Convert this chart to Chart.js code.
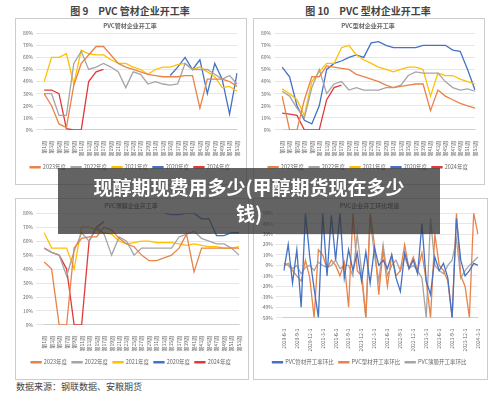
<!DOCTYPE html><html><head><meta charset="utf-8">
<script src="https://cdn.jsdelivr.net/npm/chart.js@4"></script>
<style>
body{margin:0;width:500px;height:401px;background:#fff;font-family:"Noto Sans CJK SC";position:relative;overflow:hidden}
.t{position:absolute;font-size:10px;color:#444;font-weight:bold;text-align:center;width:230px}
.b{position:absolute;border:1px solid #ccc;background:#fff}
.b canvas{position:absolute;left:0;top:0}
#banner{position:absolute;left:58px;top:168px;width:382px;height:66px;background:rgba(55,55,55,0.78);color:#fff;font-weight:bold;font-size:19px;text-align:center;line-height:26px;padding-top:6px;box-sizing:border-box}
#src{position:absolute;left:16px;top:380px;font-size:9px;color:#444}
</style></head><body>
<div class="t" style="left:15px;top:3px">图 9　PVC 管材企业开工率</div>
<div class="t" style="left:253px;top:3px">图 10　PVC 型材企业开工率</div>
<div class="b" style="left:15px;top:18px;width:230px;height:165px"><canvas id="c1"></canvas></div>
<div class="b" style="left:253px;top:18px;width:230px;height:165px"><canvas id="c2"></canvas></div>
<div class="b" style="left:15px;top:198px;width:232px;height:180px"><canvas id="c3"></canvas></div>
<div class="b" style="left:253px;top:198px;width:233px;height:180px"><canvas id="c4"></canvas></div>
<div id="src">数据来源：钢联数据、安粮期货</div>
<div id="banner">现醇期现费用多少(甲醇期货现在多少<br>钱)</div>
<script>
const weeks=[];for(let i=1;i<=53;i+=2)weeks.push('第'+i+'周');
const yearNames=['2023年度','2022年度','2021年度','2020年度','2024年度'];
const c1Orange=[30,20,5,2,37,55,62,69,69,62,55,52,50,48,46,45,44,44,44,45,45,18,42,42,42,40,36];
const c1Grey=[30,30,12,12,55,65,50,52,55,52,48,35,48,46,38,40,38,37,38,55,50,50,50,46,42,45,38];
const c1Yellow=[40,60,60,63,38,66,63,62,62,58,55,55,52,50,46,50,52,52,54,55,50,52,48,44,35,36,32];
const c1Blue=[null,null,null,null,null,null,null,null,null,null,null,null,null,null,null,null,null,45,52,60,50,58,30,55,42,13,47];
const c1Red=[33,33,30,1,0,0,40,48,50];
const c2Orange=[28,0,0,25,44,44,53,52,51,50,46,44,42,40,37,35,36,37,38,38,16,33,28,25,22,20,18];
const c2Grey=[32,28,18,10,35,50,30,38,40,33,35,33,33,33,35,35,37,45,48,47,47,47,40,35,33,34,32];
const c2Yellow=[34,30,25,12,40,48,55,55,68,70,62,58,55,52,50,48,50,52,52,50,28,47,45,45,42,40,38];
const c2Blue=[52,44,20,8,5,20,50,55,57,60,62,60,72,73,70,68,68,68,68,70,70,70,70,66,65,50,33];
const c2Red=[14,13,12,0,0,0,25,35,37];
const c3Orange=[45,40,0,0,55,62,63,63,70,68,62,58,56,50,46,46,48,50,55,65,38,55,55,55,55,55,55];
const c3Grey=[55,52,50,35,53,66,60,70,65,50,63,60,50,55,55,55,55,55,63,65,67,62,60,58,58,55,50];
const c3Yellow=[66,55,55,55,40,70,70,68,66,65,60,58,59,60,60,59,59,59,58,57,58,57,56,56,55,55,56];
const c3Blue=[null,null,null,null,null,null,null,null,null,null,null,null,null,null,null,null,80,79,79,80,80,76,76,64,64,66,66];
const c3Red=[55,52,50,40,0,0,60,70,74];
const dates=['2020-6-3','2020-7-3','2020-8-3','2020-9-3','2020-10-3','2020-11-3','2020-12-3','2021-1-3','2021-2-3','2021-3-3','2021-4-3','2021-5-3','2021-6-3','2021-7-3','2021-8-3','2021-9-3','2021-10-3','2021-11-3','2021-12-3','2022-1-3','2022-2-3','2022-3-3','2022-4-3','2022-5-3','2022-6-3','2022-7-3','2022-8-3','2022-9-3','2022-10-3','2022-11-3','2022-12-3','2023-1-3','2023-2-3','2023-3-3','2023-4-3','2023-5-3','2023-6-3','2023-7-3','2023-8-3','2023-9-3','2023-10-3','2023-11-3','2023-12-3','2024-1-3','2024-2-3','2024-3-3'];
const c4Blue=[-5,20,-17,15,-40,50,8,-22,-50,50,-10,48,5,50,-12,15,-5,12,-15,13,-17,17,0,5,-3,10,-12,-25,12,-3,5,-8,40,-15,-28,8,-5,2,-12,-50,45,5,-10,-5,2,0];
const c4Orange=[2,0,-5,-10,-15,5,-12,-50,15,10,-3,5,0,-10,3,-40,50,-5,-10,-50,50,20,-28,15,-20,10,-10,-5,20,-3,8,-5,12,-15,-50,30,0,-5,-15,-50,50,-10,-20,-50,50,30];
const c4Grey=[0,2,-3,0,-8,-2,0,-5,3,0,-2,0,5,-3,0,0,-10,30,-5,-50,45,10,-15,20,-10,0,5,-5,8,-3,0,-5,-12,-50,45,0,-5,-8,0,5,25,-12,-5,0,4,8];
const C={o:'#e8834a',g:'#a5a5a5',y:'#ffc000',b:'#4472c4',r:'#e03a3a'};
Chart.defaults.font.family='"Noto Sans CJK SC"';Chart.defaults.font.size=5;Chart.defaults.color='#666';
function ds(d,c){return{data:d,borderColor:c,backgroundColor:c,borderWidth:1.3,pointRadius:0,tension:0,spanGaps:false};}
function mk(id,title,labels,sets,names,ymin,ymax,step,skip){
 return new Chart(document.getElementById(id),{type:'line',data:{labels,datasets:sets.map((s,i)=>Object.assign(ds(s[0],s[1]),{label:names[i]}))},
 options:{responsive:true,maintainAspectRatio:false,animation:false,
 layout:{padding:{left:4,right:6,top:0,bottom:4}},
 plugins:{title:{display:true,text:title,font:{size:6},padding:{top:3,bottom:4}},
 legend:{display:true,position:'bottom',labels:{boxWidth:10,boxHeight:1,font:{size:5.5},padding:5}}},
 scales:{x:{grid:{display:false},ticks:{autoSkip:skip,maxTicksLimit:24,maxRotation:90,minRotation:90,font:{size:5}}},
 y:{min:ymin,max:ymax,ticks:{stepSize:step,callback:v=>v+'%',font:{size:5}},grid:{color:'#e6e6e6'},border:{display:false}}}}});
}
mk('c1','PVC管材企业开工率',weeks,[[c1Orange,C.o],[c1Grey,C.g],[c1Yellow,C.y],[c1Blue,C.b],[c1Red,C.r]],yearNames,0,80,10,false);
mk('c2','PVC型材企业开工率',weeks,[[c2Orange,C.o],[c2Grey,C.g],[c2Yellow,C.y],[c2Blue,C.b],[c2Red,C.r]],yearNames,0,80,10,false);
mk('c3','PVC薄膜企业开工率',weeks,[[c3Orange,C.o],[c3Grey,C.g],[c3Yellow,C.y],[c3Blue,C.b],[c3Red,C.r]],yearNames,0,80,10,false);
mk('c4','PVC企业开工环比增速',dates,[[c4Blue,C.b],[c4Orange,C.o],[c4Grey,C.g]],['PVC管材开工率环比','PVC型材开工率环比','PVC薄膜开工率环比'],-50,50,10,true);
</script></body></html>
